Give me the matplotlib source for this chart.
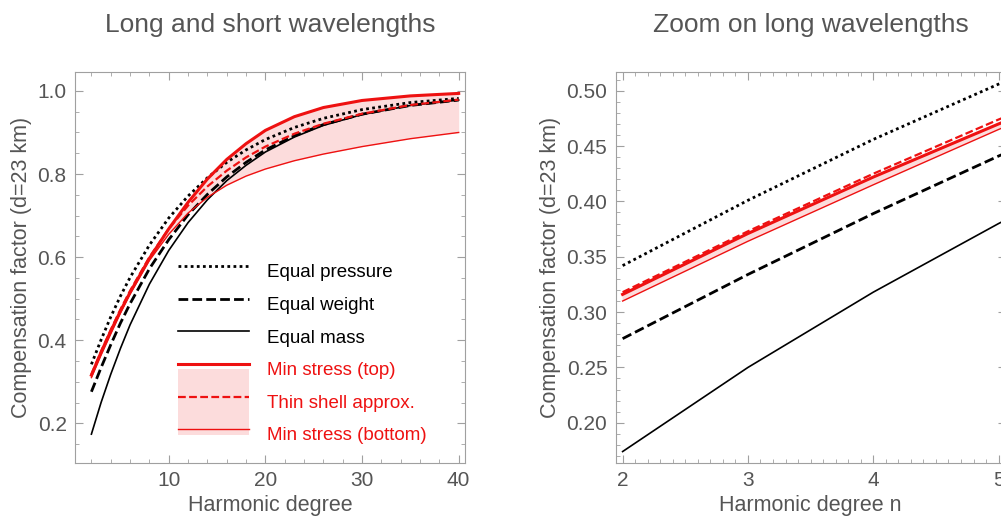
import numpy as np
import matplotlib
matplotlib.use("Agg")
from matplotlib import pyplot as plt
from matplotlib.lines import Line2D
from matplotlib.patches import Rectangle
from matplotlib.legend_handler import HandlerPatch, HandlerTuple
from matplotlib.ticker import MultipleLocator

plt.rcParams['font.family'] = ['Liberation Sans', 'DejaVu Sans']

# harmonic degree and compensation factors
degree = [2, 3, 4, 5, 6, 8, 10, 12, 14, 16, 18, 20, 23, 26, 30, 35, 40]
equal_pressure = [0.342, 0.401, 0.456, 0.506, 0.551, 0.629, 0.694, 0.747, 0.791, 0.828,
                  0.858, 0.883, 0.912, 0.934, 0.955, 0.972, 0.982]
equal_weight = [0.276, 0.334, 0.389, 0.441, 0.488, 0.572, 0.642, 0.702, 0.751, 0.793,
                0.828, 0.858, 0.892, 0.919, 0.944, 0.965, 0.978]
equal_mass = [0.174, 0.250, 0.318, 0.380, 0.437, 0.535, 0.616, 0.683, 0.738, 0.784,
              0.821, 0.853, 0.889, 0.917, 0.943, 0.965, 0.978]
stress_top = [0.316, 0.371, 0.422, 0.470, 0.515, 0.597, 0.668, 0.732, 0.788, 0.835,
              0.873, 0.905, 0.938, 0.960, 0.977, 0.988, 0.994]
thin_shell = [0.318, 0.373, 0.425, 0.474, 0.519, 0.600, 0.668, 0.724, 0.770, 0.808,
              0.840, 0.866, 0.897, 0.921, 0.945, 0.966, 0.979]
stress_bottom = [0.310, 0.364, 0.415, 0.465, 0.511, 0.592, 0.655, 0.706, 0.744, 0.773,
                 0.795, 0.812, 0.832, 0.848, 0.866, 0.885, 0.900]

titles = ["Long and short wavelengths", "Zoom on long wavelengths"]
xlabels = ["Harmonic degree", "Harmonic degree n"]
ylabel = "Compensation factor (d=23 km)"

red = "#ee1111"
pink = "#fcdcdc"
gray = "#555555"
framec = "#a0a0a0"

fig = plt.figure(figsize=(10.01, 5.25), dpi=100)
ax1 = fig.add_axes([0.0749, 0.118, 0.3896, 0.745])
ax2 = fig.add_axes([0.615, 0.118, 0.3896, 0.745])

n = np.array(degree)
for ax in (ax1, ax2):
    ax.fill_between(n, stress_bottom, stress_top, color=pink, lw=0, zorder=1)
    ax.plot(n, equal_mass, color="black", lw=1.2, zorder=3)
    ax.plot(n, equal_weight, color="black", lw=2.0, ls=(0, (3.5, 1.5)), zorder=3)
    ax.plot(n, equal_pressure, color="black", lw=2.0, ls=(0, (1, 1.2)), zorder=3)
    ax.plot(n, stress_bottom, color=red, lw=1.0, zorder=4)
    ax.plot(n, thin_shell, color=red, lw=1.6, ls=(0, (3.5, 1.5)), zorder=4)
    ax.plot(n, stress_top, color=red, lw=2.2, zorder=4)

    for s in ax.spines.values():
        s.set_color(framec)
    ax.tick_params(which="both", direction="in", top=True, right=True,
                   color=framec, labelcolor=gray, labelsize=15, pad=6)
    ax.tick_params(which="major", length=6)
    ax.tick_params(which="minor", length=3)
    ax.set_ylabel(ylabel, fontsize=15.5, color=gray, labelpad=4)

ax1.set_xlim(0.3, 40.65)
ax1.set_ylim(0.1044, 1.0457)
ax1.xaxis.set_major_locator(MultipleLocator(10))
ax1.xaxis.set_minor_locator(MultipleLocator(2))
ax1.yaxis.set_minor_locator(MultipleLocator(0.05))
ax1.set_yticks([0.2, 0.4, 0.6, 0.8, 1.0])
ax1.set_yticklabels(["0.2", "0.4", "0.6", "0.8", "1.0"])

ax2.set_xlim(1.944, 5.056)
ax2.set_ylim(0.1636, 0.517)
ax2.xaxis.set_major_locator(MultipleLocator(1))
ax2.xaxis.set_minor_locator(MultipleLocator(0.1))
ax2.yaxis.set_minor_locator(MultipleLocator(0.01))
ax2.set_yticks([0.2, 0.25, 0.3, 0.35, 0.4, 0.45, 0.5])
ax2.set_yticklabels(["0.20", "0.25", "0.30", "0.35", "0.40", "0.45", "0.50"])

for ax, t, xl in zip((ax1, ax2), titles, xlabels):
    ax.set_title(t, fontsize=19, color=gray, pad=29)
    ax.set_xlabel(xl, fontsize=15.5, color=gray, labelpad=3)

# legend with pink band behind the three red entries
h_p = Line2D([], [], color="black", lw=2.0, ls=(0, (1, 1.2)))
h_w = Line2D([], [], color="black", lw=2.0, ls=(0, (3.5, 1.5)))
h_m = Line2D([], [], color="black", lw=1.2)
h_t = Line2D([], [], color=red, lw=2.2)
h_s = Line2D([], [], color=red, lw=1.6, ls=(0, (3.5, 1.5)))
h_b = Line2D([], [], color=red, lw=1.0)
p_t = Rectangle((0, 0), 1, 1, facecolor=pink, edgecolor="none")
p_s = Rectangle((0, 0), 1, 1, facecolor=pink, edgecolor="none")
p_b = Rectangle((0, 0), 1, 1, facecolor=pink, edgecolor="none")


def band(lo, hi):
    def make(legend, orig_handle, xdescent, ydescent, width, height, fontsize):
        return Rectangle((-xdescent, -ydescent + lo * height), width, (hi - lo) * height)
    return HandlerPatch(patch_func=make)


leg = ax1.legend([h_p, h_w, h_m, (p_t, h_t), (p_s, h_s), (p_b, h_b)],
                 ["Equal pressure", "Equal weight", "Equal mass",
                  "Min stress (top)", "Thin shell approx.", "Min stress (bottom)"],
                 handler_map={tuple: HandlerTuple(ndivide=1, pad=0),
                              p_t: band(0, 0.5), p_s: band(-0.1, 1.1), p_b: band(0.5, 1)},
                 loc="lower left", bbox_to_anchor=(0.264, 0.031), frameon=False,
                 fontsize=13.5, handlelength=3.8, handleheight=2.3, labelspacing=0,
                 handletextpad=0.95, borderpad=0, borderaxespad=0)
for txt, c in zip(leg.get_texts(), ["black"] * 3 + [red] * 3):
    txt.set_color(c)

fig.savefig("out.png", dpi=100)
